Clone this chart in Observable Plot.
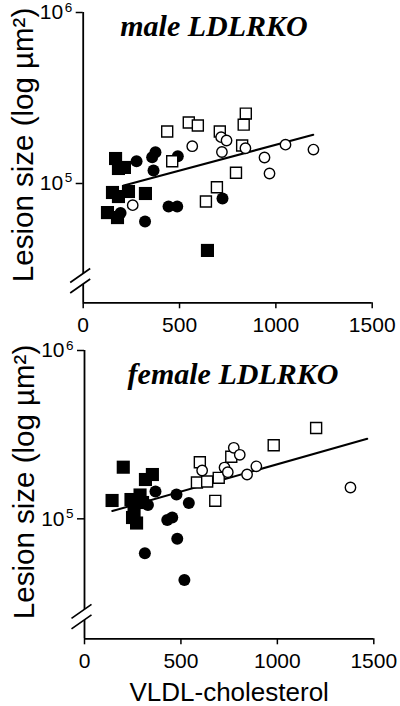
<!DOCTYPE html>
<html><head><meta charset="utf-8">
<script src="https://cdn.jsdelivr.net/npm/d3@7"></script>
<script src="https://cdn.jsdelivr.net/npm/@observablehq/plot@0.6"></script>
<style>
body{margin:0;background:#fff;}
#chart{width:400px;height:706px;overflow:hidden;}
#chart svg{display:block;}
</style></head><body><div id="chart"></div>
<script>
// ---- shared labels / ticks ----
const xTicks = [0, 500, 1000, 1500];
const yTicks = [1e5, 1e6];
const yTickBase = "10";
const yTickExp = ["5", "6"];
const yLabel = "Lesion size (log µm²)";
const xLabel = "VLDL-cholesterol";
const maleTitle = "male LDLRKO";
const femaleTitle = "female LDLRKO";

// ---- male LDLRKO ----
const maleFilledSqX = [168, 183, 214, 152, 183, 235, 323, 126, 178, 645];
const maleFilledSqY = [140000, 122400, 124100, 88600, 83900, 89800, 87400, 67600, 63200, 40600];
const maleFilledCirX = [277, 358, 375, 365, 491, 443, 488, 194, 321, 723];
const maleFilledCirY = [134900, 142600, 152400, 119100, 144400, 73400, 73400, 67200, 60000, 81700];
const maleOpenSqX = [436, 548, 595, 709, 844, 833, 825, 462, 793, 694, 637];
const maleOpenSqY = [201500, 227500, 218400, 201500, 256400, 220800, 166700, 134900, 115500, 95100, 78500];
const maleOpenCirX = [566, 716, 744, 720, 842, 941, 1050, 1195, 967, 257];
const maleOpenCirY = [165200, 186700, 178400, 152800, 160700, 141900, 168700, 157800, 114400, 74700];
const maleFitX = [211, 1194];
const maleFitY = [97300, 192700];

// ---- female LDLRKO ----
const femaleFilledSqX = [201, 352, 316, 143, 241, 288, 301, 257, 249, 270];
const femaleFilledSqY = [202600, 183300, 171200, 128500, 130200, 138500, 125000, 112000, 101800, 94400];
const femaleFilledCirX = [368, 329, 477, 541, 429, 455, 481, 313, 518];
const femaleFilledCirY = [145300, 120800, 139400, 124200, 98400, 101800, 76100, 62500, 43300];
const femaleOpenSqX = [598, 761, 981, 1201, 583, 636, 696, 678];
const femaleOpenSqY = [216900, 233600, 273700, 346400, 164400, 166700, 175200, 127900];
const femaleOpenCirX = [610, 726, 743, 774, 805, 843, 891, 1379];
const femaleOpenCirY = [193600, 201700, 189200, 264200, 240100, 183400, 205100, 153500];
const femaleFitX = [144, 1466];
const femaleFitY = [111200, 298800];

const rows = (xs, ys) => xs.map((x, i) => ({x, y: ys[i]}));

// axis-break symbols (two parallel slashes, with a white gap between them)
const breakLines = {draw(ctx) {
  ctx.moveTo(-13, 4); ctx.lineTo(7, -10);
  ctx.moveTo(-13, 14.5); ctx.lineTo(7, 0.5);
}};
const breakGap = {draw(ctx) {
  ctx.moveTo(-3, -3); ctx.lineTo(3, -7.2); ctx.lineTo(3, 3.3); ctx.lineTo(-3, 7.5); ctx.closePath();
}};

const sans = "'Liberation Sans', Arial, Helvetica, sans-serif";
const serif = "'Liberation Serif', 'Times New Roman', serif";

function panel(c) {
  const fx = (c.marginLeft + 400 - c.marginRight) / 2;
  const marks = [
    Plot.ruleX([0], {strokeWidth: 1.8}),
    Plot.ruleY([c.yLo], {strokeWidth: 1.8}),
    Plot.dot([c.yBreak], {x: 0, y: d => d, symbol: breakGap, r: 1, fill: "white", stroke: "none"}),
    Plot.dot([c.yBreak], {x: 0, y: d => d, symbol: breakLines, r: 1, fill: "none", stroke: "black", strokeWidth: 1.7}),
    Plot.axisX(xTicks, {tickSize: 6, tickPadding: 8, fontSize: 21, strokeWidth: 1.5, tickFormat: "d", label: null}),
    Plot.axisY(yTicks, {tickSize: 7, tickFormat: () => "", strokeWidth: 1.5, label: null}),
    Plot.text(yTicks, {x: 0, y: d => d, text: () => yTickBase, textAnchor: "end", lineAnchor: "middle", dx: -20, dy: 0, fontSize: 21}),
    Plot.text(yTicks, {x: 0, y: d => d, text: (d, i) => yTickExp[i], textAnchor: "end", lineAnchor: "bottom", dx: -11, dy: -1, fontSize: 13.5}),
    Plot.text([yLabel], {frameAnchor: "left", text: d => d, rotate: -90, textAnchor: "middle", lineAnchor: "bottom", dx: 33 - c.marginLeft, dy: -12.7, fontSize: 29.5}),
    Plot.text([c.title], {frameAnchor: "top", text: d => d, lineAnchor: "bottom", dx: c.titleX - fx, dy: c.titleDy, fontSize: 30, fontWeight: "bold", fontStyle: "italic", fontFamily: serif}),
    Plot.line(rows(c.fitX, c.fitY), {x: "x", y: "y", strokeWidth: 2}),
    Plot.dot(rows(c.fsqX, c.fsqY), {x: "x", y: "y", symbol: "square", r: 7.4, fill: "black", stroke: "none"}),
    Plot.dot(rows(c.fciX, c.fciY), {x: "x", y: "y", symbol: "circle", r: 6, fill: "black", stroke: "none"}),
    Plot.dot(rows(c.osqX, c.osqY), {x: "x", y: "y", symbol: "square", r: 6.2, fill: "white", stroke: "black", strokeWidth: 1.4}),
    Plot.dot(rows(c.ociX, c.ociY), {x: "x", y: "y", symbol: "circle", r: 5.2, fill: "white", stroke: "black", strokeWidth: 1.4})
  ];
  if (c.xLabel) {
    marks.push(Plot.text([c.xLabel], {frameAnchor: "bottom", text: d => d, lineAnchor: "bottom", dy: 61.7, fontSize: 26}));
  }
  return Plot.plot({
    width: 400,
    height: c.height,
    marginTop: c.marginTop,
    marginBottom: c.marginBottom,
    marginLeft: c.marginLeft,
    marginRight: c.marginRight,
    style: {fontFamily: sans, color: "black", background: "white", overflow: "visible"},
    x: {domain: [0, 1500]},
    y: {type: "log", domain: [c.yLo, 1e6]},
    marks
  });
}

const malePanel = panel({
  height: 335, marginTop: 12, marginBottom: 32.7, marginLeft: 82.7, marginRight: 28.3,
  yLo: 20060, yBreak: 27800, title: maleTitle, titleX: 213.5, titleDy: 23,
  fitX: maleFitX, fitY: maleFitY,
  fsqX: maleFilledSqX, fsqY: maleFilledSqY, fciX: maleFilledCirX, fciY: maleFilledCirY,
  osqX: maleOpenSqX, osqY: maleOpenSqY, ociX: maleOpenCirX, ociY: maleOpenCirY
});
const femalePanel = panel({
  height: 371, marginTop: 15, marginBottom: 67.7, marginLeft: 84, marginRight: 26.7,
  yLo: 19370, yBreak: 27070, title: femaleTitle, titleX: 232.5, titleDy: 33,
  fitX: femaleFitX, fitY: femaleFitY,
  fsqX: femaleFilledSqX, fsqY: femaleFilledSqY, fciX: femaleFilledCirX, fciY: femaleFilledCirY,
  osqX: femaleOpenSqX, osqY: femaleOpenSqY, ociX: femaleOpenCirX, ociY: femaleOpenCirY,
  xLabel: xLabel
});
const el = document.getElementById("chart");
el.appendChild(malePanel);
el.appendChild(femalePanel);
</script></body></html>
